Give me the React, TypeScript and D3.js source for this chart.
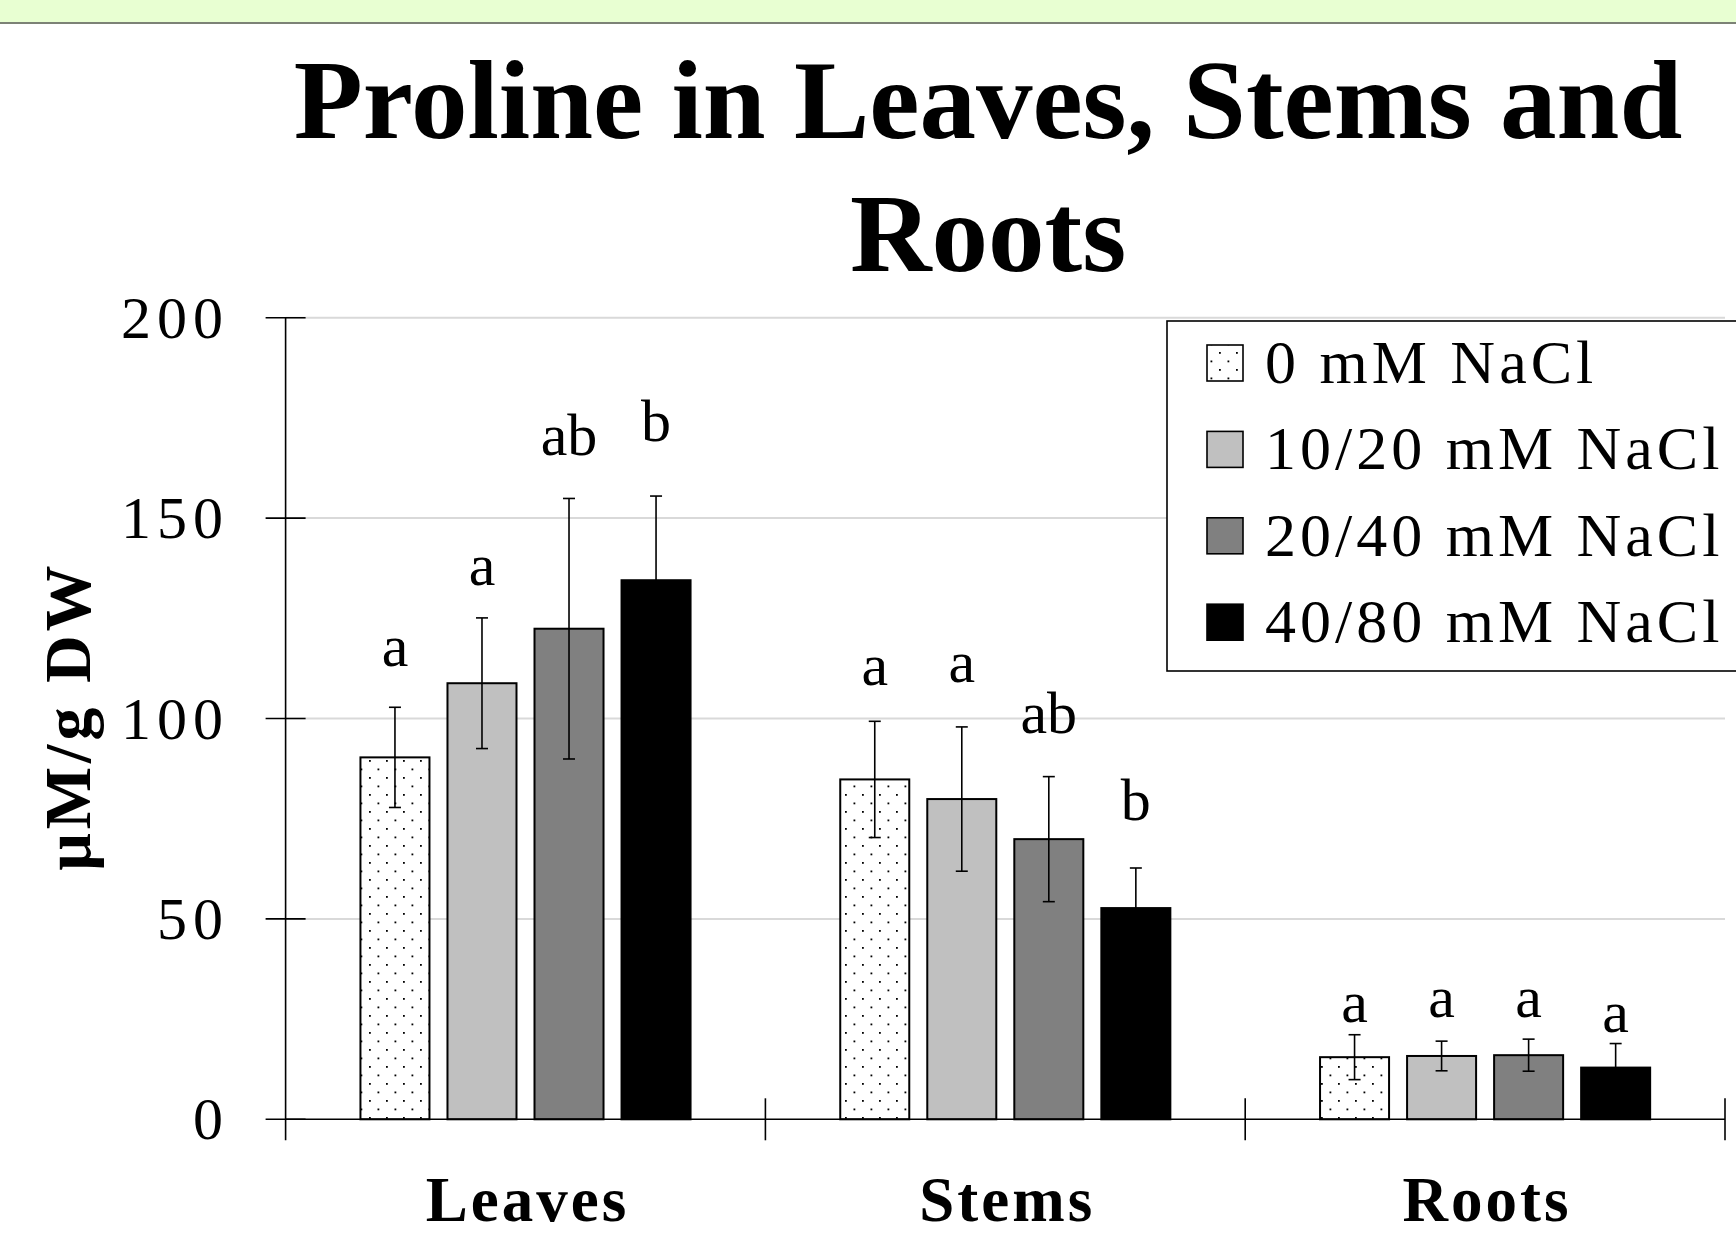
import React from 'react';
import * as d3 from 'd3';

const categories = ['Leaves', 'Stems', 'Roots'];
const seriesNames = ['0 mM NaCl', '10/20 mM NaCl', '20/40 mM NaCl', '40/80 mM NaCl'];
const seriesFills = ['url(#dots)', '#c0c0c0', '#808080', '#000000'];

// mean per series, in category order (Leaves, Stems, Roots)
const means = [
    [90.3, 84.8, 15.5],
    [108.8, 79.9, 15.8],
    [122.4, 69.9, 16.0],
    [134.5, 52.7, 12.9],
];
const errors = [
    [12.5, 14.5, 5.6],
    [16.3, 18.0, 3.7],
    [32.5, 15.6, 4.0],
    [21.0, 10.0, 6.0],
];
// significance letters and the value level their baseline sits at
const letters = [
    ['a', 'a', 'a'],
    ['a', 'a', 'a'],
    ['ab', 'ab', 'a'],
    ['b', 'b', 'a'],
];
const letterAt = [
    [113.2, 108.4, 24.4],
    [133.4, 109.2, 25.6],
    [165.7, 96.4, 25.6],
    [169.3, 74.7, 21.9],
];
const yTicks = [0, 50, 100, 150, 200];

const W = 1736;
const H = 1252;
const FONT = '"Liberation Serif", "Times New Roman", serif';

export default function App() {
    const plotLeft = 285.6;
    const plotRight = 1725;

    const x = d3.scaleBand<string>()
        .domain(categories)
        .range([plotLeft, plotRight])
        .paddingInner(0.312)
        .paddingOuter(0.156);

    const xs = d3.scaleBand<string>()
        .domain(seriesNames)
        .range([0, x.bandwidth()])
        .paddingInner(0.207);

    const y = d3.scaleLinear().domain([0, 200]).range([1119.3, 317.7]);
    const y0 = y(0);
    const step = x.step();
    const capW = 6;

    return (
        <svg width={W} height={H} style={{ position: 'absolute', left: 0, top: 0, background: '#fff' }}
            fontFamily={FONT}>
            <defs>
                <pattern id="dots" width={17} height={17} patternUnits="userSpaceOnUse">
                    <rect width={17} height={17} fill="#fff" />
                    <rect x={3.5} y={3.5} width={1.8} height={1.8} fill="#000" />
                    <rect x={12} y={12} width={1.8} height={1.8} fill="#000" />
                </pattern>
            </defs>

            {/* top banner */}
            <rect x={0} y={0} width={W} height={22} fill="#e8ffd2" />
            <rect x={0} y={22} width={W} height={2} fill="#7c8276" />

            {/* title */}
            <text x={988} y={138} textAnchor="middle" fontSize={113} fontWeight="bold">
                Proline in Leaves, Stems and
            </text>
            <text x={988} y={271} textAnchor="middle" fontSize={113} fontWeight="bold">Roots</text>

            {/* grid */}
            {yTicks.filter(t => t > 0).map(t => (
                <line key={t} x1={plotLeft} x2={plotRight} y1={y(t)} y2={y(t)} stroke="#d9d9d9" strokeWidth={2} />
            ))}

            {/* bars */}
            {seriesNames.map((s, si) => (
                <g key={s}>
                    {categories.map((c, ci) => {
                        const bx = x(c)! + xs(s)!;
                        const cx = bx + xs.bandwidth() / 2;
                        const v = means[si][ci];
                        const e = errors[si][ci];
                        return (
                            <g key={c}>
                                <rect x={bx} y={y(v)} width={xs.bandwidth()} height={y0 - y(v)}
                                    fill={seriesFills[si]} stroke="#000" strokeWidth={2} />
                                <g stroke="#000" strokeWidth={1.6}>
                                    <line x1={cx} x2={cx} y1={y(v + e)} y2={y(v - e)} />
                                    <line x1={cx - capW} x2={cx + capW} y1={y(v + e)} y2={y(v + e)} />
                                    <line x1={cx - capW} x2={cx + capW} y1={y(v - e)} y2={y(v - e)} />
                                </g>
                                <text x={cx} y={y(letterAt[si][ci])} textAnchor="middle" fontSize={60}>
                                    {letters[si][ci]}
                                </text>
                            </g>
                        );
                    })}
                </g>
            ))}

            {/* axes */}
            <g stroke="#000" strokeWidth={1.6}>
                <line x1={plotLeft} x2={plotLeft} y1={y(200)} y2={y0 + 21} />
                <line x1={plotLeft} x2={plotRight} y1={y0} y2={y0} />
                {yTicks.map(t => (
                    <line key={t} x1={plotLeft - 20} x2={plotLeft + 20} y1={y(t)} y2={y(t)} />
                ))}
                {categories.map((c, i) => (
                    <line key={c} x1={plotLeft + step * (i + 1)} x2={plotLeft + step * (i + 1)}
                        y1={y0 - 21} y2={y0 + 21} />
                ))}
            </g>
            {yTicks.map(t => (
                <text key={t} x={229} y={y(t) + 20} textAnchor="end" fontSize={60} letterSpacing={6}>{t}</text>
            ))}
            {categories.map(c => (
                <text key={c} x={x(c)! + x.bandwidth() / 2 + 2} y={1221} textAnchor="middle"
                    fontSize={63} fontWeight="bold" letterSpacing={3}>{c}</text>
            ))}
            <text transform="translate(90,716) rotate(-90)" textAnchor="middle" fontSize={66} fontWeight="bold"
                letterSpacing={4}>
                μM/g DW
            </text>

            {/* legend */}
            <rect x={1167} y={321} width={620} height={350} fill="#fff" stroke="#000" strokeWidth={1.6} />
            {seriesNames.map((s, i) => {
                const cy = 363 + i * 86.4;
                return (
                    <g key={s}>
                        <rect x={1207} y={cy - 18} width={36} height={36} fill={seriesFills[i]}
                            stroke="#000" strokeWidth={1.6} />
                        <text x={1265} y={cy + 20} fontSize={62} letterSpacing={4}>{s}</text>
                    </g>
                );
            })}
        </svg>
    );
}
